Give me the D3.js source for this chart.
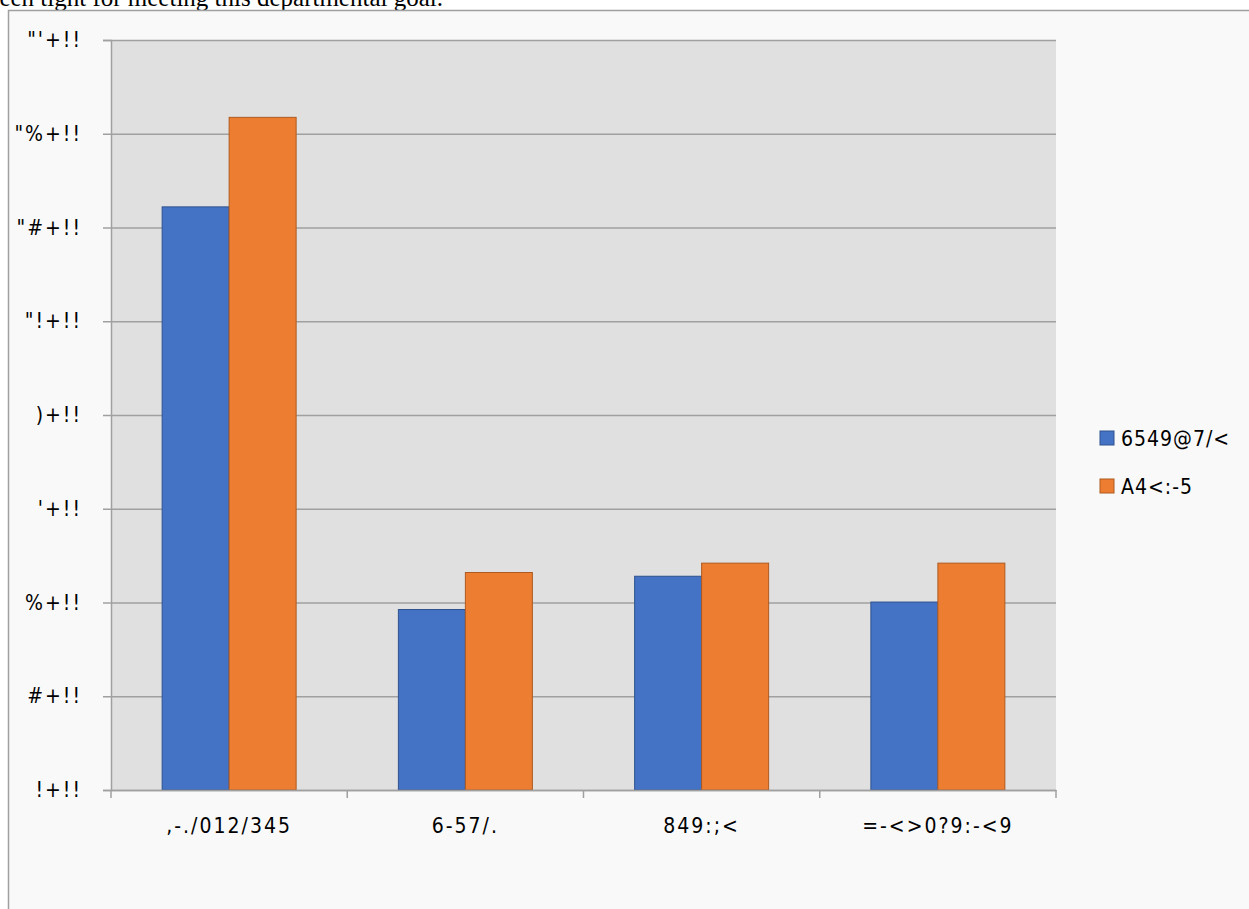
<!DOCTYPE html>
<html>
<head>
<meta charset="utf-8">
<script src="https://cdn.jsdelivr.net/npm/d3@7"></script>
<style>
html,body{margin:0;padding:0;background:#fff;overflow:hidden;}
svg{display:block;}
</style>
</head>
<body>
<svg id="c" width="1249" height="909"></svg>
<script>
const categories = [",-./012/345", "6-57/.", "849:;<", "=-<>0?9:-<9"];
const seriesNames = ["6549@7/<", "A4<:-5"];
const seriesA = [12.44, 3.85, 4.56, 4.01];
const seriesB = [14.35, 4.64, 4.84, 4.84];
const tickValues = [0, 2, 4, 6, 8, 10, 12, 14, 16];
const tickLabels = ["!+!!", "#+!!", "%+!!", "'+!!", ")+!!", "\"!+!!", "\"#+!!", "\"%+!!", "\"'+!!"];
const colors = ["#4472C4", "#ED7D31"];
const strokes = ["#2F528F", "#AE5A21"];
const captionText = "been tight for meeting this departmental goal.";

const svg = d3.select("#c");
const W = 1249, H = 909;
const plot = {left: 111, right: 1056, top: 40, bottom: 790};
const font = "'DejaVu Sans Condensed', 'Liberation Sans Narrow', sans-serif";

// caption fragment
svg.append("text").attr("x", 443).attr("y", 6).attr("text-anchor", "end")
  .attr("font-family", "'Liberation Serif', 'Times New Roman', serif")
  .attr("font-size", 25).attr("fill", "#000").text(captionText);

// chart box
svg.append("rect").attr("x", 8.5).attr("y", 10.5).attr("width", W).attr("height", H)
  .attr("fill", "#f9f9f9").attr("stroke", "#a0a0a0").attr("stroke-width", 1.5);

const x0 = d3.scaleBand().domain(categories).range([plot.left, plot.right]).paddingInner(0).paddingOuter(0);
const inner = 134 / 236.25;
const x1 = d3.scaleBand().domain([0, 1]).range([0, x0.bandwidth() * inner]);
const y = d3.scaleLinear().domain([0, 16]).range([plot.bottom, plot.top]);

svg.append("rect").attr("x", plot.left).attr("y", plot.top)
  .attr("width", plot.right - plot.left).attr("height", plot.bottom - plot.top)
  .attr("fill", "#e0e0e0");

// gridlines + y axis
const yAxis = d3.axisLeft(y).tickValues(tickValues)
  .tickFormat((d, i) => tickLabels[i]).tickSize(8).tickPadding(21);
const gy = svg.append("g").attr("transform", `translate(${plot.left},0)`).call(yAxis);
gy.select(".domain").attr("stroke", "#a0a0a0").attr("stroke-width", 1.5);
gy.selectAll(".tick line").attr("stroke", "#a0a0a0").attr("stroke-width", 1.5)
  .attr("x2", plot.right - plot.left).attr("x1", -8);
gy.selectAll(".tick text").attr("font-family", font).attr("font-size", 21)
  .attr("letter-spacing", 2).attr("fill", "#000");

// bars
const data = categories.map((c, i) => ({c, v: [seriesA[i], seriesB[i]]}));
const off = (x0.bandwidth() - x0.bandwidth() * inner) / 2;
const g = svg.append("g");
data.forEach(d => {
  d.v.forEach((v, s) => {
    g.append("rect")
      .attr("x", x0(d.c) + off + x1(s))
      .attr("y", y(v))
      .attr("width", x1.bandwidth())
      .attr("height", y(0) - y(v))
      .attr("fill", colors[s]).attr("stroke", strokes[s]).attr("stroke-width", 1);
  });
});

// x axis
const xAxis = d3.axisBottom(x0).tickSize(0).tickPadding(28);
const gx = svg.append("g").attr("transform", `translate(0,${plot.bottom})`).call(xAxis);
gx.select(".domain").attr("stroke", "#a0a0a0").attr("stroke-width", 1.5);
gx.selectAll(".tick text").attr("font-family", font).attr("font-size", 21)
  .attr("letter-spacing", 2).attr("fill", "#000");
const bounds = categories.map(c => x0(c)).concat([plot.right]);
gx.selectAll(".sep").data(bounds).join("line").attr("class", "sep")
  .attr("x1", d => d).attr("x2", d => d).attr("y1", 0).attr("y2", 8)
  .attr("stroke", "#a0a0a0").attr("stroke-width", 1.5);

// legend
const leg = svg.append("g").attr("transform", "translate(1100,431)");
seriesNames.forEach((n, i) => {
  const row = leg.append("g").attr("transform", `translate(0,${i * 48})`);
  row.append("rect").attr("x", 0).attr("y", 0).attr("width", 14).attr("height", 14)
    .attr("fill", colors[i]).attr("stroke", strokes[i]).attr("stroke-width", 1);
  row.append("text").attr("x", 21).attr("y", 7).attr("dy", "0.36em")
    .attr("font-family", font).attr("font-size", 21).attr("letter-spacing", 1)
    .attr("fill", "#000").text(n);
});
</script>
</body>
</html>
